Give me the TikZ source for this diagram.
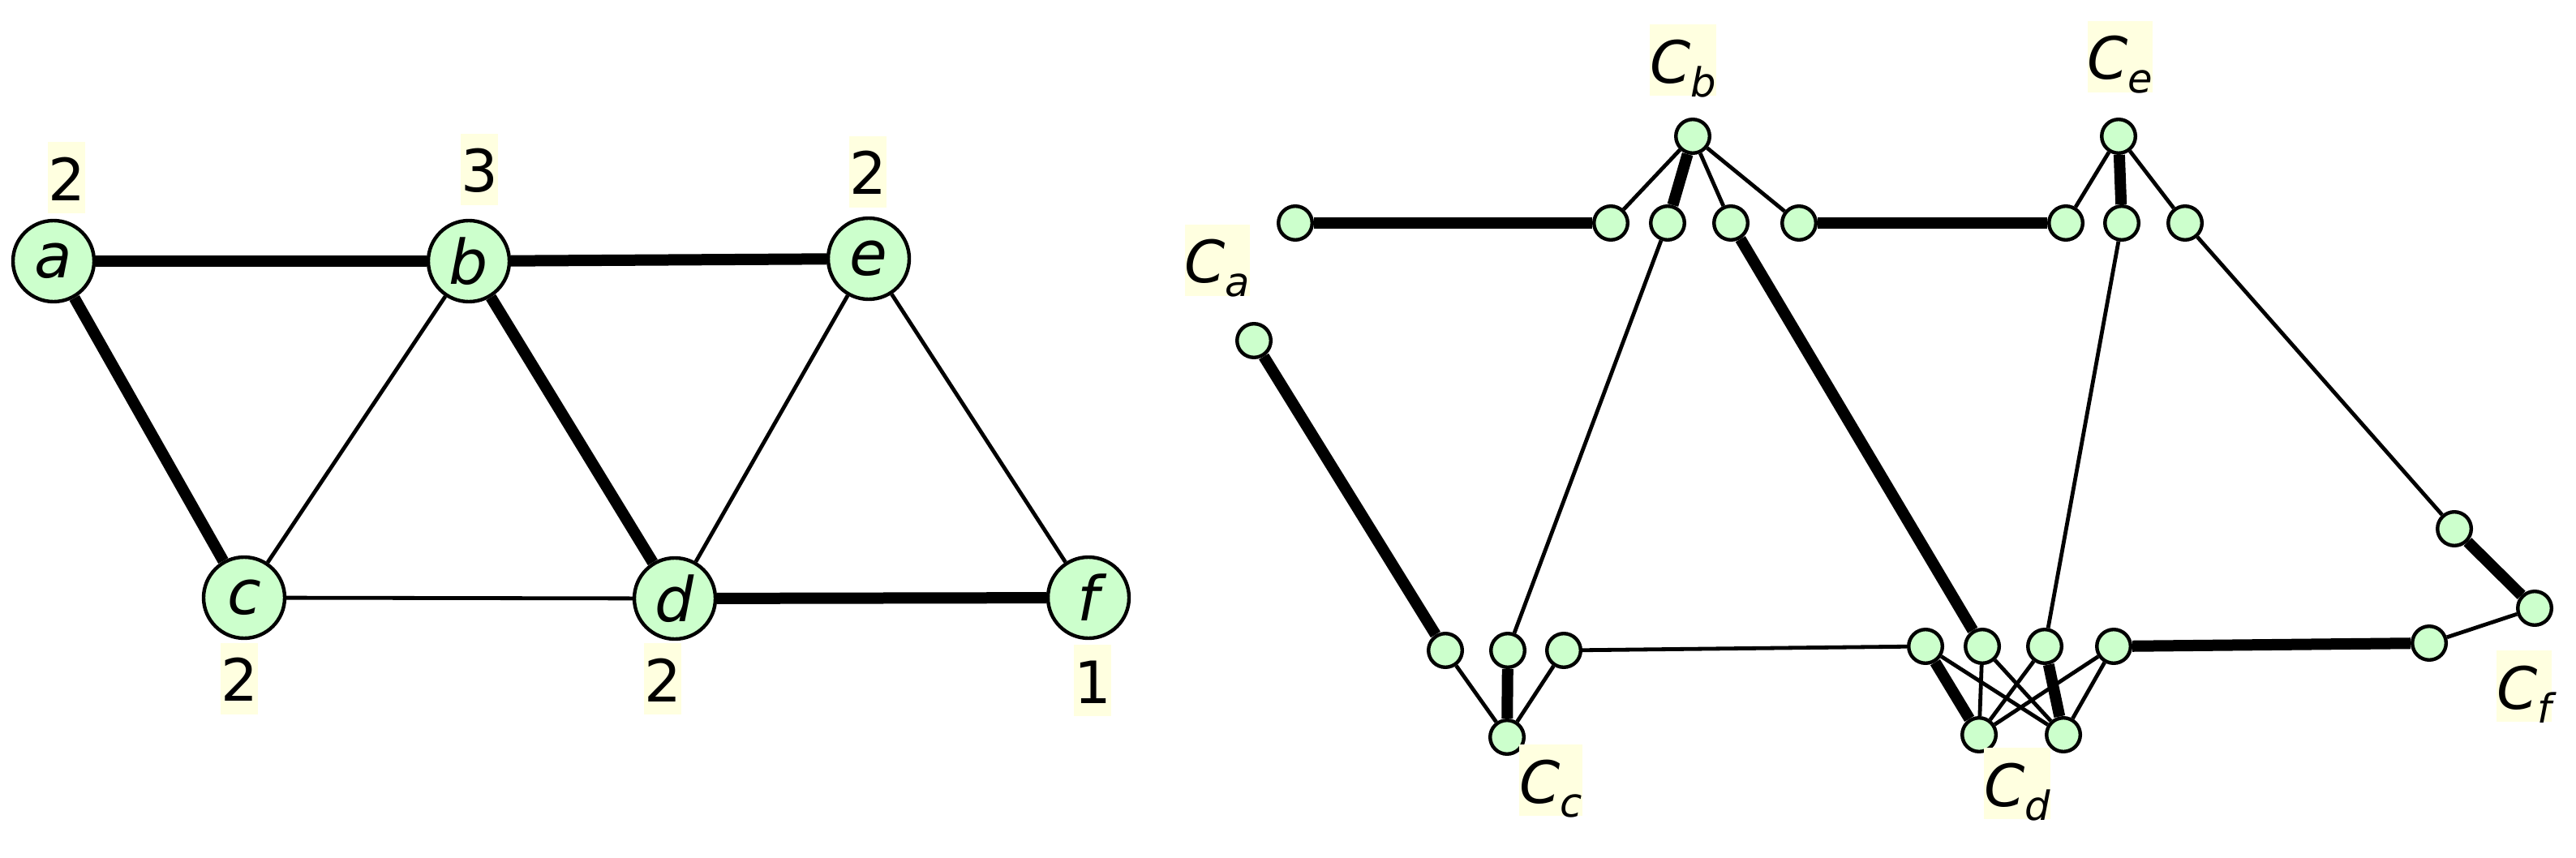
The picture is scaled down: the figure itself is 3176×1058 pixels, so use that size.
\documentclass[tikz,border=0pt]{standalone}
\usepackage{fontspec}
\setmainfont{DejaVu Sans}
\usetikzlibrary{backgrounds}
\definecolor{nodegreen}{HTML}{CCFFCC}
\definecolor{labelyellow}{HTML}{FFFFE0}
\newcommand{\Csub}[1]{C\raisebox{-4.25pt}{\fontsize{12.4pt}{12.4pt}\selectfont #1}}
\begin{document}
\begin{tikzpicture}[x=0.25pt,y=-0.25pt,
  bignode/.style={circle,draw=black,line width=1.1pt,fill=nodegreen,minimum size=25pt,inner sep=0pt,font=\fontsize{19pt}{19pt}\selectfont\itshape},
  smallnode/.style={circle,draw=black,line width=1.1pt,fill=nodegreen,minimum size=10.4pt,inner sep=0pt},
  numlabel/.style={fill=labelyellow,inner sep=0pt,text height=18pt,text depth=4pt,font=\fontsize{18pt}{18pt}\selectfont},
  clabel/.style={fill=labelyellow,inner sep=0pt,text height=18pt,text depth=4pt,font=\fontsize{18pt}{18pt}\selectfont\itshape},
  thickedge/.style={line width=3.5pt},
  thinedge/.style={line width=1.2pt}]
\useasboundingbox (0,0) rectangle (3176,1058);

% ---------- left graph ----------
\node[bignode] (a) at (66,322) {a};
\node[bignode] (b) at (578,322) {b};
\node[bignode] (e) at (1071,319) {e};
\node[bignode] (c) at (301,737) {c};
\node[bignode] (d) at (832,738) {d};
\node[bignode] (f) at (1342,737) {f};

\node[numlabel] (la) at (82,219.5) {2};
\node[numlabel] (lb) at (591,209) {3};
\node[numlabel] (le) at (1070,212) {2};
\node[numlabel] (lc) at (295,836.5) {2};
\node[numlabel] (ld) at (817,837) {2};
\node[numlabel] (lf) at (1347,839) {1};

% ---------- right graph ----------
\node[smallnode] (A1) at (1597,275) {};
\node[smallnode] (A2) at (1546,420) {};
\node[smallnode] (Bt) at (2087,168) {};
\node[smallnode] (B1) at (1986,275) {};
\node[smallnode] (B2) at (2056,275) {};
\node[smallnode] (B3) at (2134,275) {};
\node[smallnode] (B4) at (2218,275) {};
\node[smallnode] (Et) at (2612,168) {};
\node[smallnode] (E1) at (2547,275) {};
\node[smallnode] (E2) at (2616,275) {};
\node[smallnode] (E3) at (2694,275) {};
\node[smallnode] (C1) at (1782,802) {};
\node[smallnode] (C2) at (1859,802) {};
\node[smallnode] (C3) at (1928,802) {};
\node[smallnode] (Cb) at (1858,909) {};
\node[smallnode] (D1) at (2374,797) {};
\node[smallnode] (D2) at (2444,797) {};
\node[smallnode] (D3) at (2521,797) {};
\node[smallnode] (D4) at (2606,797) {};
\node[smallnode] (Db1) at (2440,906) {};
\node[smallnode] (Db2) at (2544,906) {};
\node[smallnode] (F1) at (3026,652) {};
\node[smallnode] (F2) at (3125,750) {};
\node[smallnode] (F3) at (2995,793) {};

\node[clabel] (lCa) at (1501,321) {\Csub{a}};
\node[clabel] (lCb) at (2075,74.5) {\Csub{b}};
\node[clabel] (lCe) at (2614,70) {\Csub{e}};
\node[clabel] (lCc) at (1912,962) {\Csub{c}};
\node[clabel] (lCd) at (2487,966) {\Csub{d}};
\node[clabel] (lCf) at (3112,846) {\Csub{f}};

\begin{scope}[on background layer]
  % left graph edges
  \draw[thickedge] (a) -- (b);
  \draw[thickedge] (b) -- (e);
  \draw[thickedge] (a) -- (c);
  \draw[thickedge] (b) -- (d);
  \draw[thickedge] (d) -- (f);
  \draw[thinedge] (b) -- (c);
  \draw[thinedge] (e) -- (d);
  \draw[thinedge] (e) -- (f);
  \draw[thinedge] (c) -- (d);
  % right graph edges
  \draw[thickedge] (A1) -- (B1);
  \draw[thinedge] (Bt) -- (B1);
  \draw[thickedge] (Bt) -- (B2);
  \draw[thinedge] (Bt) -- (B3);
  \draw[thinedge] (Bt) -- (B4);
  \draw[thickedge] (B4) -- (E1);
  \draw[thinedge] (Et) -- (E1);
  \draw[thickedge] (Et) -- (E2);
  \draw[thinedge] (Et) -- (E3);
  \draw[thickedge] (A2) -- (C1);
  \draw[thinedge] (B2) -- (C2);
  \draw[thickedge] (B3) -- (D2);
  \draw[thinedge] (E2) -- (D3);
  \draw[thinedge] (E3) -- (F1);
  \draw[thinedge] (C3) -- (D1);
  \draw[thinedge] (C1) -- (Cb);
  \draw[thickedge] (C2) -- (Cb);
  \draw[thinedge] (C3) -- (Cb);
  \draw[thickedge] (D4) -- (F3);
  \draw[thinedge] (F3) -- (F2);
  \draw[thickedge] (F1) -- (F2);
  \draw[thickedge] (D1) -- (Db1);
  \draw[thinedge] (D1) -- (Db2);
  \draw[thinedge] (D2) -- (Db1);
  \draw[thinedge] (D2) -- (Db2);
  \draw[thinedge] (D3) -- (Db1);
  \draw[thickedge] (D3) -- (Db2);
  \draw[thinedge] (D4) -- (Db1);
  \draw[thinedge] (D4) -- (Db2);
\end{scope}
\end{tikzpicture}
\end{document}
